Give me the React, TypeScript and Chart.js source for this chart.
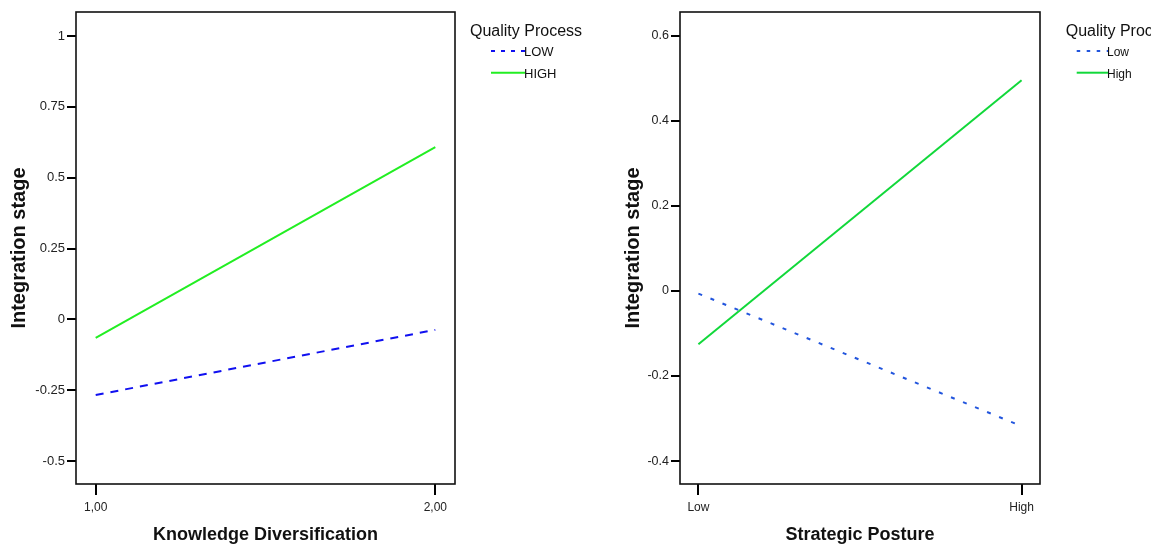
import React, { useEffect, useRef } from "react";
import { Chart, registerables } from "chart.js";

Chart.register(...registerables);

const FONT = "'Liberation Sans', Arial, Helvetica, sans-serif";

// ---------- Left panel data ----------
const leftXValues = [1, 2];
const leftXLabels = ["1,00", "2,00"];
const leftSeriesLabels = ["LOW", "HIGH"];
const leftLow = [-0.267, -0.037];
const leftHigh = [-0.065, 0.608];
const leftYTicks = [-0.5, -0.25, 0, 0.25, 0.5, 0.75, 1];
const leftYLabels = ["-0.5", "-0.25", "0", "0.25", "0.5", "0.75", "1"];

// ---------- Right panel data ----------
const rightXValues = [0, 1];
const rightXLabels = ["Low", "High"];
const rightSeriesLabels = ["Low", "High"];
const rightLow = [-0.006, -0.318];
const rightHigh = [-0.125, 0.496];
const rightYTicks = [-0.4, -0.2, 0, 0.2, 0.4, 0.6];
const rightYLabels = ["-0.4", "-0.2", "0", "0.2", "0.4", "0.6"];

const frameBox = {
  id: "frameBox",
  afterDraw(chart: any) {
    const { ctx, chartArea } = chart;
    ctx.save();
    ctx.strokeStyle = "#111";
    ctx.lineWidth = 1.6;
    ctx.strokeRect(chartArea.left, chartArea.top, chartArea.right - chartArea.left, chartArea.bottom - chartArea.top);
    ctx.restore();
  },
};

const sideLegend = {
  id: "sideLegend",
  afterDraw(chart: any, _args: any, opts: any) {
    const { ctx } = chart;
    ctx.save();
    ctx.fillStyle = "#111";
    ctx.textBaseline = "alphabetic";
    ctx.textAlign = "left";
    ctx.font = `${opts.titleSize}px ${FONT}`;
    ctx.fillText(opts.title, opts.titleX, opts.titleY);
    ctx.font = `${opts.textSize}px ${FONT}`;
    chart.data.datasets.forEach((ds: any, i: number) => {
      const y = opts.rows[i];
      ctx.strokeStyle = ds.borderColor;
      ctx.lineWidth = 2;
      ctx.setLineDash(opts.dashes[i] || []);
      ctx.beginPath();
      ctx.moveTo(opts.lineX1, y);
      ctx.lineTo(opts.lineX2, y);
      ctx.stroke();
      ctx.setLineDash([]);
      ctx.fillStyle = "#111";
      ctx.fillText(ds.label, opts.lineX2 - 1, y + opts.textOffset);
    });
    ctx.restore();
  },
};

type PanelCfg = {
  xValues: number[];
  xLabels: string[];
  seriesLabels: string[];
  low: number[];
  high: number[];
  yTicks: number[];
  yLabels: string[];
  yMin: number;
  yMax: number;
  xPad: number;
  xTitle: string;
  yTitle: string;
  yAxisWidth: number;
  padRight: number;
  yTitlePad: number;
  yTickSize: number;
  xTickSize: number;
  lowColor: string;
  highColor: string;
  lowDash: number[];
  legend: any;
};

function makeConfig(p: PanelCfg): any {
  return {
    type: "line",
    data: {
      datasets: [
        {
          label: p.seriesLabels[0],
          data: p.xValues.map((x, i) => ({ x, y: p.low[i] })),
          borderColor: p.lowColor,
          borderWidth: 2,
          borderDash: p.lowDash,
          pointRadius: 0,
          fill: false,
          tension: 0,
        },
        {
          label: p.seriesLabels[1],
          data: p.xValues.map((x, i) => ({ x, y: p.high[i] })),
          borderColor: p.highColor,
          borderWidth: 2,
          pointRadius: 0,
          fill: false,
          tension: 0,
        },
      ],
    },
    options: {
      responsive: false,
      animation: false,
      events: [],
      layout: { padding: { left: 0, top: 12, right: p.padRight, bottom: 0 } },
      plugins: {
        legend: { display: false },
        tooltip: { enabled: false },
        sideLegend: p.legend,
      },
      scales: {
        x: {
          type: "linear",
          min: p.xValues[0] - p.xPad,
          max: p.xValues[p.xValues.length - 1] + p.xPad,
          afterFit: (s: any) => {
            s.height = 62;
          },
          afterBuildTicks: (s: any) => {
            s.ticks = p.xValues.map((v) => ({ value: v }));
          },
          ticks: {
            autoSkip: false,
            maxRotation: 0,
            padding: 5,
            color: "#222",
            font: { family: FONT, size: p.xTickSize },
            callback: (v: number) => p.xLabels[p.xValues.indexOf(v)],
          },
          grid: { drawOnChartArea: false, tickLength: 11, color: "#000", lineWidth: 2 },
          border: { display: false },
          title: {
            display: true,
            text: p.xTitle,
            color: "#111",
            font: { family: FONT, size: 18, weight: "bold", lineHeight: 1 },
            padding: { top: 0, bottom: 1.5 },
          },
        },
        y: {
          type: "linear",
          min: p.yMin,
          max: p.yMax,
          afterFit: (s: any) => {
            s.width = p.yAxisWidth;
          },
          afterBuildTicks: (s: any) => {
            s.ticks = p.yTicks.map((v) => ({ value: v }));
          },
          ticks: {
            autoSkip: false,
            padding: 2,
            color: "#222",
            font: { family: FONT, size: p.yTickSize },
            callback: (v: number) => p.yLabels[p.yTicks.indexOf(v)],
          },
          grid: { drawOnChartArea: false, tickLength: 9, color: "#000", lineWidth: 2 },
          border: { display: false },
          title: {
            display: true,
            text: p.yTitle,
            color: "#111",
            font: { family: FONT, size: 20, weight: "bold", lineHeight: 1 },
            padding: { top: p.yTitlePad, bottom: 0 },
          },
        },
      },
    },
    plugins: [frameBox, sideLegend],
  };
}

const leftCfg: PanelCfg = {
  xValues: leftXValues,
  xLabels: leftXLabels,
  seriesLabels: leftSeriesLabels,
  low: leftLow,
  high: leftHigh,
  yTicks: leftYTicks,
  yLabels: leftYLabels,
  yMin: -0.581,
  yMax: 1.085,
  xPad: 0.058,
  xTitle: "Knowledge Diversification",
  yTitle: "Integration stage",
  yAxisWidth: 76,
  padRight: 145,
  yTitlePad: 9,
  yTickSize: 13,
  xTickSize: 12,
  lowColor: "#1010f0",
  highColor: "#22ee22",
  lowDash: [8, 7],
  legend: {
    title: "Quality Process",
    titleX: 470,
    titleY: 36,
    titleSize: 16,
    textSize: 13,
    lineX1: 491,
    lineX2: 525,
    rows: [51, 72.7],
    textOffset: 5.3,
    dashes: [[4, 6], []],
  },
};

const rightCfg: PanelCfg = {
  xValues: rightXValues,
  xLabels: rightXLabels,
  seriesLabels: rightSeriesLabels,
  low: rightLow,
  high: rightHigh,
  yTicks: rightYTicks,
  yLabels: rightYLabels,
  yMin: -0.454,
  yMax: 0.6565,
  xPad: 0.057,
  xTitle: "Strategic Posture",
  yTitle: "Integration stage",
  yAxisWidth: 80,
  padRight: 111,
  yTitlePad: 23,
  yTickSize: 12.5,
  xTickSize: 12,
  lowColor: "#2255dd",
  highColor: "#11d83a",
  lowDash: [4, 9],
  legend: {
    title: "Quality Process",
    titleX: 465.7,
    titleY: 36,
    titleSize: 16,
    textSize: 12,
    lineX1: 476.7,
    lineX2: 508,
    rows: [51, 72.7],
    textOffset: 5,
    dashes: [[3.5, 6.5], []],
  },
};

function Panel({ cfg, left, width }: { cfg: PanelCfg; left: number; width: number }) {
  const ref = useRef<HTMLCanvasElement>(null);
  useEffect(() => {
    const chart = new Chart(ref.current as HTMLCanvasElement, makeConfig(cfg));
    return () => chart.destroy();
  }, [cfg]);
  return (
    <canvas
      ref={ref}
      width={width}
      height={546}
      style={{ position: "absolute", left, top: 0, width, height: 546 }}
    />
  );
}

export default function App() {
  return (
    <div
      style={{
        position: "absolute",
        left: 0,
        top: 0,
        width: 1151,
        height: 546,
        overflow: "hidden",
        background: "#fff",
      }}
    >
      <Panel cfg={leftCfg} left={0} width={600} />
      <Panel cfg={rightCfg} left={600} width={551} />
    </div>
  );
}
